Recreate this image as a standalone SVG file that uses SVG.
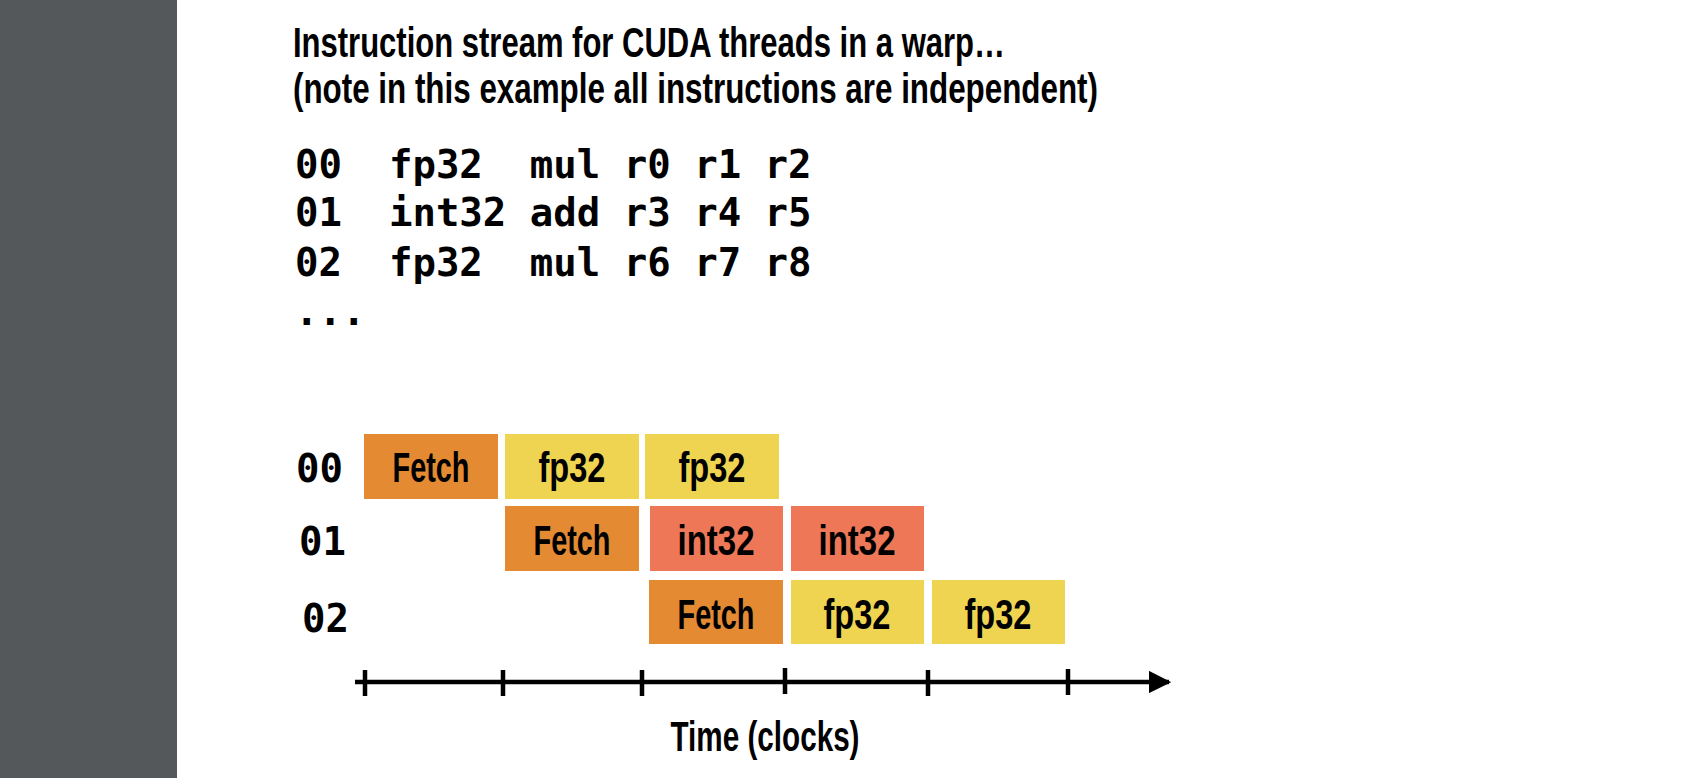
<svg xmlns="http://www.w3.org/2000/svg" width="1704" height="778" viewBox="0 0 1704 778">
<style>
.t{font-family:"Liberation Sans",Arial,sans-serif;font-weight:bold;fill:#000}
.m{font-family:"DejaVu Sans Mono","Liberation Mono",monospace;font-weight:bold;font-size:39px;fill:#000;white-space:pre}
.lbl{font-family:"Liberation Sans",Arial,sans-serif;font-weight:bold;font-size:43px;fill:#000;text-anchor:middle}
.fetch{fill:#e38a32}
.fp{fill:#efd452}
.int{fill:#ee7757}
.ax{stroke:#000;stroke-width:4.5;fill:none}
</style>
<defs>
<marker id="arr" viewBox="0 0 10 10" refX="9" refY="5" markerWidth="5" markerHeight="5" markerUnits="strokeWidth" orient="auto">
<path d="M0,0 L10,5 L0,10 z" fill="#000"/>
</marker>
</defs>
<rect x="0" y="0" width="1704" height="778" fill="#fff"/>
<rect id="sidebar" x="0" y="0" width="177" height="778" fill="#54585b"/>
<g id="title">
<text class="t" x="293" y="57" font-size="42" textLength="712" lengthAdjust="spacingAndGlyphs">Instruction stream for CUDA threads in a warp…</text>
<text class="t" x="293" y="103" font-size="42" textLength="805" lengthAdjust="spacingAndGlyphs">(note in this example all instructions are independent)</text>
</g>
<g id="code">
<text class="m" x="295" y="178" xml:space="preserve">00  fp32  mul r0 r1 r2</text>
<text class="m" x="295" y="226" xml:space="preserve">01  int32 add r3 r4 r5</text>
<text class="m" x="295" y="276" xml:space="preserve">02  fp32  mul r6 r7 r8</text>
<text class="m" x="295" y="325">...</text>
</g>
<g id="row-labels">
<text class="m" x="296" y="482" font-size="40">00</text>
<text class="m" x="299" y="555" font-size="40">01</text>
<text class="m" x="302" y="632" font-size="40">02</text>
</g>
<g id="r0-fetch"><rect class="fetch" x="364" y="434" width="134" height="65"/><text class="lbl" x="431" y="482" textLength="77" lengthAdjust="spacingAndGlyphs">Fetch</text></g>
<g id="r0-fp1"><rect class="fp" x="505" y="434" width="134" height="65"/><text class="lbl" x="572" y="482" textLength="67" lengthAdjust="spacingAndGlyphs">fp32</text></g>
<g id="r0-fp2"><rect class="fp" x="645" y="434" width="134" height="65"/><text class="lbl" x="712" y="482" textLength="67" lengthAdjust="spacingAndGlyphs">fp32</text></g>
<g id="r1-fetch"><rect class="fetch" x="505" y="506" width="134" height="65"/><text class="lbl" x="572" y="555" textLength="77" lengthAdjust="spacingAndGlyphs">Fetch</text></g>
<g id="r1-int1"><rect class="int" x="650" y="506" width="133" height="65"/><text class="lbl" x="716" y="555" textLength="77" lengthAdjust="spacingAndGlyphs">int32</text></g>
<g id="r1-int2"><rect class="int" x="791" y="506" width="133" height="65"/><text class="lbl" x="857" y="555" textLength="77" lengthAdjust="spacingAndGlyphs">int32</text></g>
<g id="r2-fetch"><rect class="fetch" x="649" y="580" width="134" height="64"/><text class="lbl" x="716" y="629" textLength="77" lengthAdjust="spacingAndGlyphs">Fetch</text></g>
<g id="r2-fp1"><rect class="fp" x="791" y="580" width="133" height="64"/><text class="lbl" x="857" y="629" textLength="67" lengthAdjust="spacingAndGlyphs">fp32</text></g>
<g id="r2-fp2"><rect class="fp" x="932" y="580" width="133" height="64"/><text class="lbl" x="998" y="629" textLength="67" lengthAdjust="spacingAndGlyphs">fp32</text></g>
<g id="connectors">
<line class="ax" x1="355" y1="682" x2="1169" y2="682" marker-end="url(#arr)"/>
<line class="ax" x1="365" y1="670" x2="365" y2="696"/>
<line class="ax" x1="503" y1="670" x2="503" y2="696"/>
<line class="ax" x1="642" y1="670" x2="642" y2="696"/>
<line class="ax" x1="785" y1="668" x2="785" y2="694"/>
<line class="ax" x1="928" y1="670" x2="928" y2="696"/>
<line class="ax" x1="1068" y1="669" x2="1068" y2="695"/>
</g>
<text id="axis-label" class="lbl" x="765" y="751" font-size="42" textLength="189" lengthAdjust="spacingAndGlyphs">Time (clocks)</text>
</svg>
